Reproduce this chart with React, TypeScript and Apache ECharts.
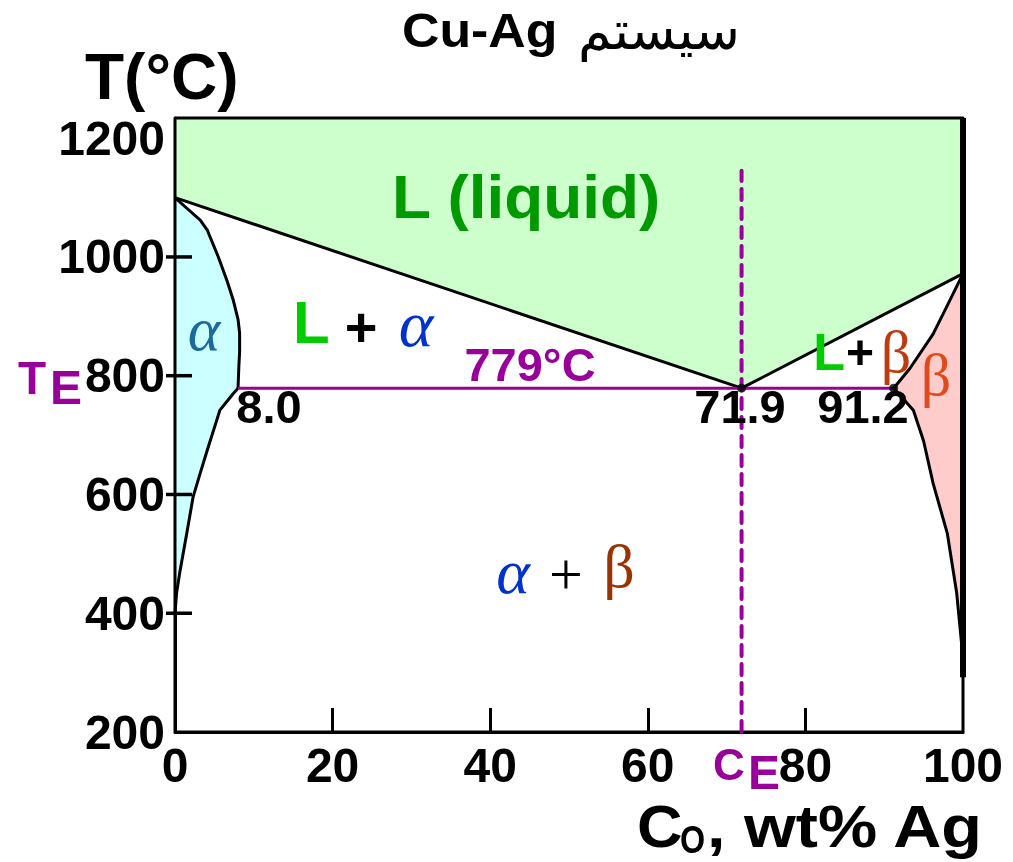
import React, { useEffect, useRef } from 'react';
import * as echarts from 'echarts';

// ---- axis ticks ----
const X_LABELS = [0, 20, 40, 60, 80, 100];
const X_TICKS = [20, 40, 60, 80];
const Y_LABELS = [200, 400, 600, 800, 1000, 1200];
const Y_TICKS = [400, 600, 800, 1000];
const T_MIN = 200;
const T_TOP = 1234;
const C_MIN = 0;
const C_MAX = 100;

// ---- phase boundaries (wt% Ag, °C) ----
const liquidusLeft = [[0, 1100], [71.9, 779]];
const liquidusRight = [[71.9, 779], [100, 972]];
const solidusAlpha = [[0, 1100], [1.5, 1082], [3.2, 1062], [4.1, 1045], [5.5, 1000], [6.6, 960], [7.4, 927], [8.0, 895], [8.2, 872], [8.2, 840], [8.1, 815], [8.0, 779]];
const solvusAlpha = [[8.0, 779], [7.4, 770], [5.7, 742], [4.1, 675], [3.2, 636], [2.3, 596], [1.5, 535], [0.6, 468], [0.2, 434], [0, 400]];
const solidusBeta = [[100, 972], [98.3, 926], [96.2, 870], [93.3, 813], [91.2, 779]];
const solvusBeta = [[91.2, 779], [92.5, 760], [93.7, 742], [95.0, 690], [96.2, 619], [98.0, 535], [99.2, 434], [99.9, 338], [100, 292]];
const eutecticT = 779;
const eutecticC = [8.0, 71.9, 91.2];
const ceLineTop = 1145;

const PURPLE = '#990099';
const SANS = '"Liberation Sans", Arial, sans-serif';
const SERIF = '"Liberation Serif", "Times New Roman", serif';

const lineSeries = (data: number[][], color: string, width: number, type: any = 'solid', z = 3) => ({
  type: 'line',
  data,
  showSymbol: false,
  symbol: 'none',
  silent: true,
  clip: false,
  z,
  lineStyle: { color, width, type, cap: 'butt', join: 'round' },
});

const txt = (text: string, x: number, y: number, o: any = {}) => ({
  type: 'text',
  x,
  y,
  scaleX: o.scaleX ?? 1,
  z: 10,
  style: {
    text,
    fill: o.fill ?? '#000',
    fontSize: o.size ?? 48,
    fontWeight: o.weight ?? 'bold',
    fontStyle: o.style ?? 'normal',
    fontFamily: o.family ?? SANS,
    align: o.align ?? 'left',
    verticalAlign: 'middle',
  },
});

export default function App() {
  const ref = useRef<HTMLDivElement>(null);
  useEffect(() => {
    if (!ref.current) return;
    const chart = echarts.init(ref.current, null, { renderer: 'svg' });
    const greenPoly = [[C_MIN, T_TOP], ...liquidusLeft, ...liquidusRight.slice(1), [C_MAX, T_TOP]];
    const alphaPoly = [...solidusAlpha, ...solvusAlpha.slice(1)];
    const betaPoly = [...solidusBeta, ...solvusBeta.slice(1)];
    const regions: [number[][], string][] = [[greenPoly, '#CCFFCC'], [alphaPoly, '#CCFFFF'], [betaPoly, '#FFCCCC']];
    const frame = [[C_MIN, T_MIN], [C_MAX, T_MIN], [C_MAX, T_TOP], [C_MIN, T_TOP], [C_MIN, T_MIN]];
    const axisLabel = { fontSize: 48, fontWeight: 'bold', fontFamily: SANS, color: '#000', formatter: (v: number) => String(v) };

    // filled phase regions
    const regionSeries = {
      type: 'custom',
      coordinateSystem: 'cartesian2d',
      data: [[50, 700]],
      silent: true,
      clip: false,
      z: 1,
      renderItem: (_p: any, api: any) => ({
        type: 'group',
        children: regions.map(([pts, fill]) => ({
          type: 'polygon',
          shape: { points: pts.map((p) => api.coord(p)) },
          style: { fill },
        })),
      }),
    };

    // y ticks crossing the left axis, drawn above the regions
    const yTickSeries = {
      type: 'custom',
      coordinateSystem: 'cartesian2d',
      data: Y_TICKS.map((v) => [C_MIN, v]),
      silent: true,
      clip: false,
      z: 8,
      renderItem: (_p: any, api: any) => {
        const pt = api.coord([api.value(0), api.value(1)]);
        return {
          type: 'rect',
          shape: { x: pt[0] - 9, y: pt[1] - 1.75, width: 26, height: 3.5 },
          style: { fill: '#000' },
        };
      },
    };

    chart.setOption({
      animation: false,
      grid: { left: 175, top: 118, width: 788, height: 614 },
      xAxis: {
        type: 'value', min: C_MIN, max: C_MAX, interval: 20,
        axisLine: { show: true, lineStyle: { color: '#000', width: 3 } },
        splitLine: { show: false },
        axisTick: { show: true, inside: true, length: 24, lineStyle: { color: '#000', width: 3 }, customValues: X_TICKS },
        axisLabel: { ...axisLabel, margin: 9, customValues: X_LABELS },
      },
      yAxis: {
        type: 'value', min: T_MIN, max: T_TOP, interval: 200,
        axisLine: { show: true, lineStyle: { color: '#000', width: 3 } },
        splitLine: { show: false },
        axisTick: { show: false },
        axisLabel: { ...axisLabel, margin: 10, customValues: Y_LABELS },
      },
      series: [
        regionSeries,
        lineSeries(frame, '#000', 3),
        lineSeries([[C_MAX, solvusBeta[solvusBeta.length - 1][1]], [C_MAX, T_TOP]], '#000', 6),
        lineSeries(liquidusLeft, '#000', 3),
        lineSeries(liquidusRight, '#000', 3),
        lineSeries(solidusAlpha, '#000', 3),
        lineSeries(solvusAlpha, '#000', 3),
        lineSeries(solidusBeta, '#000', 3),
        lineSeries(solvusBeta, '#000', 3),
        lineSeries([[eutecticC[0], eutecticT], [eutecticC[2], eutecticT]], PURPLE, 3, 'solid', 4),
        {
          ...lineSeries([[eutecticC[1], T_MIN], [eutecticC[1], ceLineTop]], PURPLE, 4, [11, 8], 5),
          lineStyle: { color: PURPLE, width: 4, type: [11, 8], cap: 'round' },
        },
        yTickSeries,
        {
          type: 'scatter', silent: true, z: 6, symbolSize: 9,
          itemStyle: { color: '#000' },
          data: [[eutecticC[1], eutecticT], [eutecticC[2], eutecticT]],
        },
      ],
      graphic: [
        txt('Cu-Ag', 402, 31, { size: 48, scaleX: 1.08 }),
        txt('سیستم', 578, 30, { size: 54, weight: 'normal', family: '"DejaVu Sans", sans-serif' }),
        txt('T(°C)', 85, 77, { size: 64 }),
        txt('L (liquid)', 392, 196, { size: 62, fill: '#009900', scaleX: 1.03 }),
        txt('L', 293, 322, { size: 60, fill: '#00CC00' }),
        txt('+', 361, 326, { size: 56, align: 'center' }),
        txt('α', 416, 323, { size: 66, weight: 'normal', style: 'italic', family: SERIF, fill: '#0033CC', align: 'center' }),
        txt('α', 204, 329, { size: 62, weight: 'normal', style: 'italic', family: SERIF, fill: '#1A6A9A', align: 'center' }),
        txt(`${eutecticT}°C`, 530, 364, { size: 47, fill: PURPLE, align: 'center' }),
        txt(eutecticC[0].toFixed(1), 269, 406, { size: 47, align: 'center' }),
        txt(eutecticC[1].toFixed(1), 740, 406, { size: 47, align: 'center' }),
        txt(eutecticC[2].toFixed(1), 863, 406, { size: 47, align: 'center' }),
        txt('L', 829, 352, { size: 52, fill: '#00CC00', align: 'center' }),
        txt('+', 860, 352, { size: 48, align: 'center' }),
        txt('β', 896, 352, { size: 60, weight: 'normal', family: SERIF, fill: '#C03A10', align: 'center' }),
        txt('β', 936, 375, { size: 60, weight: 'normal', family: SERIF, fill: '#E04A1A', align: 'center' }),
        txt('α', 513, 571, { size: 64, weight: 'normal', style: 'italic', family: SERIF, fill: '#0033CC', align: 'center' }),
        txt('+', 566, 574, { size: 60, weight: 'normal', family: SERIF, align: 'center' }),
        txt('β', 619, 566, { size: 62, weight: 'normal', family: SERIF, fill: '#993300', align: 'center' }),
        txt('C', 713, 764, { size: 44, fill: PURPLE }),
        txt('E', 748, 772, { size: 48, fill: PURPLE }),
        txt('T', 18, 378, { size: 46, fill: PURPLE }),
        txt('E', 50, 387, { size: 48, fill: PURPLE }),
        txt('C', 637, 826, { size: 60, scaleX: 1.05 }),
        txt('O', 680, 840, { size: 38, scaleX: 0.85 }),
        txt(', wt% Ag', 707, 826, { size: 60, scaleX: 1.11 }),
      ],
    });
    return () => chart.dispose();
  }, []);
  return <div ref={ref} style={{ position: 'fixed', left: 0, top: 0, width: 1013, height: 862 }} />;
}
